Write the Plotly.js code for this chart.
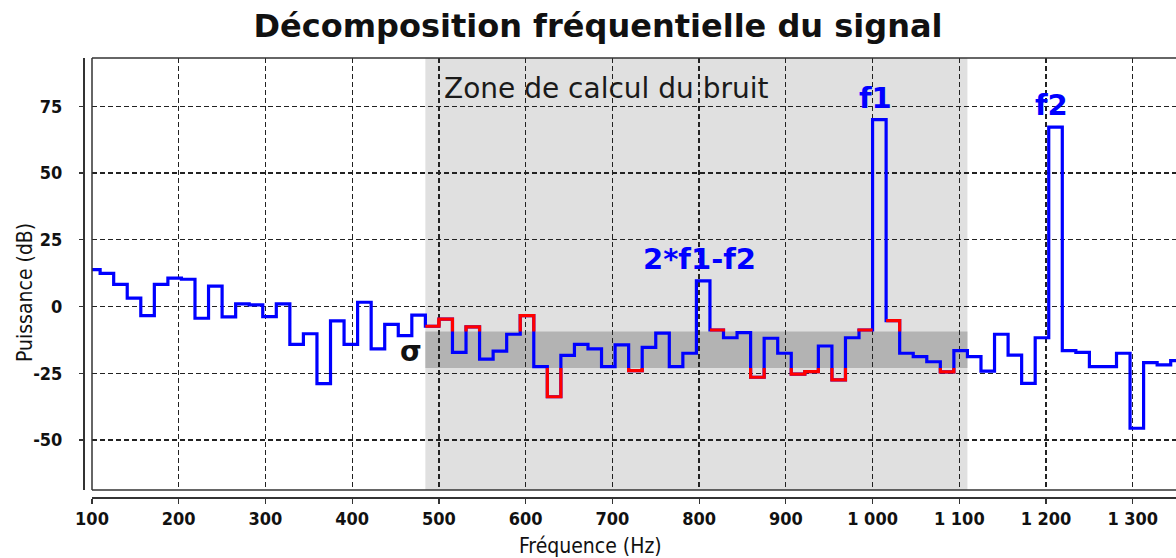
<!DOCTYPE html>
<html>
<head>
<meta charset="utf-8">
<script src="https://cdn.plot.ly/plotly-3.0.1.min.js"></script>
<style>html,body{margin:0;padding:0;background:#fff;}#chart{width:1176px;height:558px;}</style>
</head>
<body>
<div id="chart"></div>
<script>
// ---- data ----
const binWidth = 15.625;          // Hz per FFT bin
const firstBin = 6;               // index of the first bin listed in power
const power = [
  13.8, 12.4, 8.3, 3.1, -3.4, 8.3, 10.6, 10.2, -4.4, 7.6,
  -3.9, 1.0, 0.6, -3.8, 1.0, -14.2, -10.2, -28.9, -5.4, -14.2,
  1.6, -15.9, -6.7, -10.9, -3.2,
  -7.4, -4.7, -17.2, -7.6, -19.7, -16.7, -10.4, -3.4, -22.5, -33.8,
  -18.3, -14.2, -15.9, -22.5, -14.4, -24.0, -15.3, -10.0, -22.5, -17.5,
  9.6, -8.8, -11.7, -9.8, -26.5, -11.9, -17.5, -25.3, -24.4, -14.8,
  -27.5, -11.7, -8.8, 70.0, -5.3, -17.5, -18.8, -20.7, -24.5, -16.5,
  -18.8, -24.2, -10.4, -18.2, -28.8, -11.7, 67.2, -16.5, -17.2, -22.5,
  -22.5, -17.5, -45.6, -21.0, -21.9, -20.3
];
const peakNames = ['2*f1-f2', 'f1', 'f2'];
const peakBins = [51, 64, 77];
const zoneFirstBin = 31;          // first bin of the noise zone
const zoneEndBin = 71;            // bin edge closing the noise zone
const noiseMean = -16.2;
const noiseSigma = 6.8;
const xTickVals = [100, 200, 300, 400, 500, 600, 700, 800, 900, 1000, 1100, 1200, 1300];
const xTickText = ['100', '200', '300', '400', '500', '600', '700', '800', '900', '1 000', '1 100', '1 200', '1 300'];
const yTickVals = [-50, -25, 0, 25, 50, 75];
const yTickText = ['-50', '-25', '0', '25', '50', '75'];

(function () {
// ---- build traces ----
const nB = power.length;
const edge = k => k * binWidth;
const val = k => power[k - firstBin];
const xs = [], ys = [];
for (let i = 0; i < nB; i++) { xs.push(edge(firstBin + i)); ys.push(power[i]); }
xs.push(edge(firstBin + nB)); ys.push(power[nB - 1]);

const bandTop = noiseMean + noiseSigma, bandBot = noiseMean - noiseSigma;
const inZone = k => k >= zoneFirstBin && k < zoneEndBin && peakBins.indexOf(k) < 0;
const rx = [], ry = [];
for (let k = zoneFirstBin; k < zoneEndBin; k++) {
  if (!inZone(k)) continue;
  const v = val(k);
  if (v <= bandTop && v >= bandBot) continue;
  const up = v > bandTop;
  let yl = v, yr = v;
  if (inZone(k - 1)) yl = up ? Math.max(val(k - 1), bandTop) : Math.min(val(k - 1), bandBot);
  if (inZone(k + 1)) yr = up ? Math.max(val(k + 1), bandTop) : Math.min(val(k + 1), bandBot);
  rx.push(edge(k), edge(k), edge(k + 1), edge(k + 1), null);
  ry.push(yl, v, v, yr, null);
}

const traces = [
  {x: xs, y: ys, type: 'scatter', mode: 'lines', line: {shape: 'hv', color: '#0000ff', width: 3.2}, hoverinfo: 'skip'},
  {x: rx, y: ry, type: 'scatter', mode: 'lines', line: {color: '#ff0000', width: 3.2}, connectgaps: false, hoverinfo: 'skip'}
];

// ---- layout ----
const W = 1176, H = 558, ML = 83, MT = 58, MB = 61;
const pw = W - ML, ph = H - MT - MB;
const dx = 9 / pw, dy = 7 / ph;
const tickFont = {family: 'DejaVu Sans Condensed', size: 18, weight: 'bold', color: '#111'};
const gridStyle = {showgrid: true, gridcolor: '#222', griddash: '5px,3px', gridwidth: 1.3, zeroline: false};
const frameLine = {color: '#333', width: 1.5};

const annotations = [
  {text: 'Zone de calcul du bruit', xref: 'x', yref: 'y domain', x: edge(zoneFirstBin), y: 1,
   xanchor: 'left', yanchor: 'middle', xshift: 17, yshift: -30, showarrow: false,
   font: {family: 'DejaVu Sans', size: 28, color: '#1a1a1a'}},
  {text: 'σ', xref: 'x', yref: 'y', x: edge(zoneFirstBin), y: noiseMean, xanchor: 'right', yanchor: 'middle',
   xshift: -1, yshift: -2, showarrow: false, font: {family: 'DejaVu Sans', size: 28, weight: 'bold', color: '#111'}},
  {text: 'Fréquence (Hz)', xref: 'paper', yref: 'paper', x: (590 - ML) / pw, y: -(546 - (H - MB)) / ph,
   xanchor: 'center', yanchor: 'middle', showarrow: false,
   font: {family: 'DejaVu Sans Condensed', size: 21, color: '#111'}},
  {text: 'Puissance (dB)', xref: 'paper', yref: 'paper', x: (25 - ML) / pw, y: ((H - MB) - 293) / ph,
   xanchor: 'center', yanchor: 'middle', textangle: -90, showarrow: false,
   font: {family: 'DejaVu Sans Condensed', size: 21, color: '#111'}}
];
peakBins.forEach((b, i) => {
  annotations.push({text: peakNames[i], xref: 'x', yref: 'y', x: edge(b) + binWidth / 2, y: val(b),
    xanchor: 'center', yanchor: 'bottom', xshift: -4, yshift: 3, showarrow: false,
    font: {family: 'DejaVu Sans', size: 29, weight: 'bold', color: '#0000ff'}});
});

const shapes = [
  {type: 'rect', xref: 'x', yref: 'y domain', x0: edge(zoneFirstBin), x1: edge(zoneEndBin), y0: 0, y1: 1,
   fillcolor: '#e0e0e0', line: {width: 0}, layer: 'below'},
  {type: 'rect', xref: 'x', yref: 'y', x0: edge(zoneFirstBin), x1: edge(zoneEndBin), y0: bandBot, y1: bandTop,
   fillcolor: '#b3b3b3', line: {width: 0}, layer: 'below'},
  {type: 'line', xref: 'paper', yref: 'paper', x0: dx, x1: dx, y0: dy, y1: 1, line: frameLine, layer: 'above'},
  {type: 'line', xref: 'paper', yref: 'paper', x0: dx, x1: 1, y0: 1, y1: 1, line: frameLine, layer: 'above'},
  {type: 'line', xref: 'paper', yref: 'paper', x0: dx, x1: 1, y0: dy, y1: dy, line: frameLine, layer: 'above'}
];

const xPlotW = pw * (1 - dx), yPlotH = ph * (1 - dy);
const pxPerHz = 0.8673, pxPerDb = 2.67;
const layout = {
  width: W, height: H,
  margin: {l: ML, r: 0, t: MT, b: MB, pad: 0},
  paper_bgcolor: '#fff', plot_bgcolor: '#fff',
  showlegend: false,
  title: {text: 'Décomposition fréquentielle du signal', xref: 'container', yref: 'container',
          x: 598 / W, y: 1 - 26 / H, xanchor: 'center', yanchor: 'middle',
          font: {family: 'DejaVu Sans', size: 32, weight: 'bold', color: '#111'}},
  xaxis: Object.assign({
    domain: [dx, 1], range: [100, 100 + xPlotW / pxPerHz], anchor: 'free', position: 0,
    showline: true, linecolor: '#333', linewidth: 1.5, ticks: 'outside', ticklen: 5, tickwidth: 1.2,
    tickcolor: '#333', tickvals: xTickVals, ticktext: xTickText, tickfont: tickFont
  }, gridStyle),
  yaxis: Object.assign({
    domain: [dy, 1], range: [(306.5 - 490) / pxPerDb, (306.5 - 490) / pxPerDb + yPlotH / pxPerDb],
    anchor: 'free', position: 0,
    showline: true, linecolor: '#333', linewidth: 1.5, ticks: 'outside', ticklen: 4, tickwidth: 1.2,
    tickcolor: '#333', tickvals: yTickVals, ticktext: yTickText, tickfont: tickFont, ticklabelstandoff: 13
  }, gridStyle),
  shapes: shapes,
  annotations: annotations
};

Plotly.newPlot('chart', traces, layout, {displayModeBar: false, staticPlot: true});
})();
</script>
</body>
</html>
